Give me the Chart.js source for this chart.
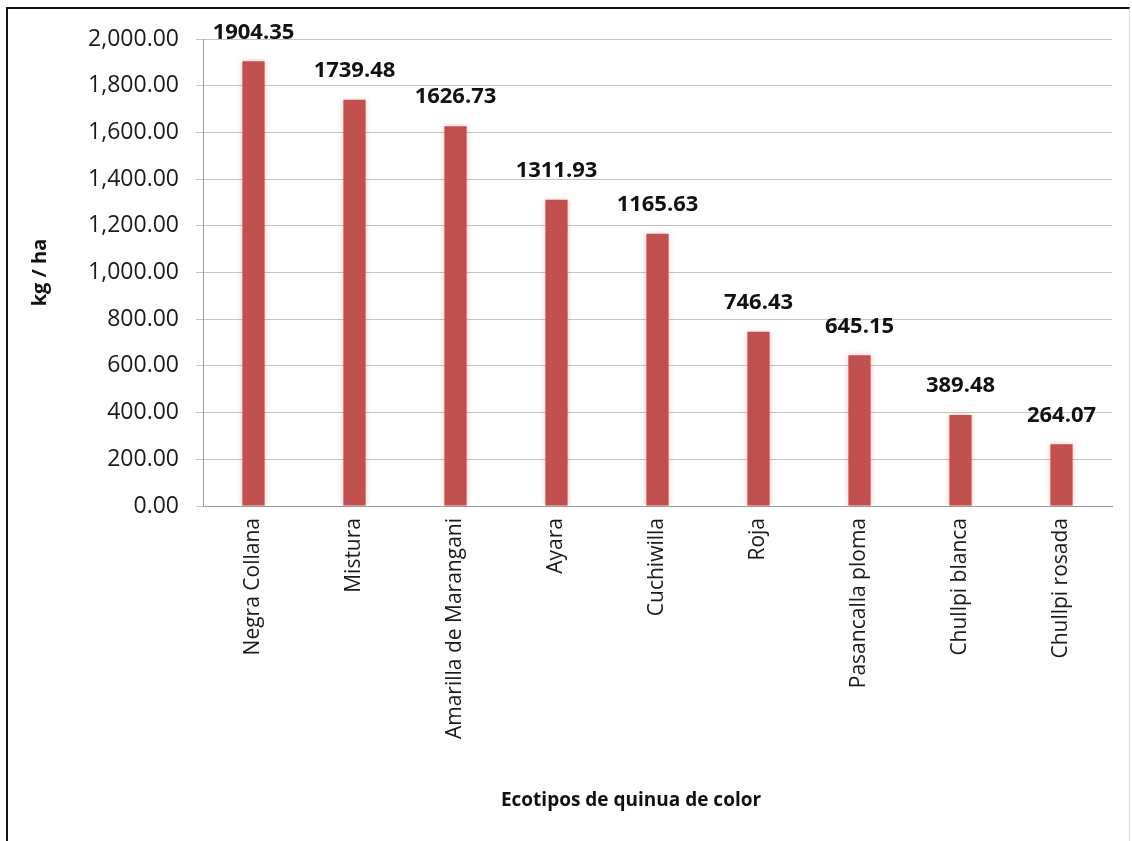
<!DOCTYPE html>
<html>
<head>
<meta charset="utf-8">
<script src="https://cdn.jsdelivr.net/npm/chart.js@4"></script>
<style>
  html, body { margin: 0; padding: 0; background: #fff; }
  #wrap { position: relative; width: 1132px; height: 841px; overflow: hidden; }
  #frame {
    position: absolute; left: 6px; top: 7px; width: 1121px; height: 900px;
    border-left: 2px solid #111; border-top: 2px solid #111; border-right: 1px solid #ddd;
  }
  canvas { position: absolute; left: 0; top: 0; }
</style>
</head>
<body>
<div id="wrap">
  <div id="frame"></div>
  <canvas id="c" width="1132" height="841"></canvas>
</div>
<script>
// Yield of coloured quinoa ecotypes (kg / ha)
const categories = [
  'Negra Collana', 'Mistura', 'Amarilla de Marangani', 'Ayara', 'Cuchiwilla',
  'Roja', 'Pasancalla ploma', 'Chullpi blanca', 'Chullpi rosada'
];
const yieldValues = [1904.35, 1739.48, 1626.73, 1311.93, 1165.63, 746.43, 645.15, 389.48, 264.07];
const yTicks = [0, 200, 400, 600, 800, 1000, 1200, 1400, 1600, 1800, 2000];
const xTitle = 'Ecotipos de quinua de color';

const FONT = "'Open Sans', 'Liberation Sans', sans-serif";

// Soft halo around the bars
const barHalo = {
  id: 'barHalo',
  beforeDatasetsDraw(chart) {
    const ctx = chart.ctx;
    ctx.save();
    ctx.shadowColor = 'rgba(230,120,120,0.45)';
    ctx.shadowBlur = 5;
  },
  afterDatasetsDraw(chart) {
    chart.ctx.restore();
  }
};

// Value written above each bar, plus the category-axis title
const valueLabels = {
  id: 'valueLabels',
  afterDatasetsDraw(chart) {
    const ctx = chart.ctx;
    const meta = chart.getDatasetMeta(0);
    ctx.save();
    ctx.font = 'bold 22px ' + FONT;
    ctx.fillStyle = '#111';
    ctx.textAlign = 'center';
    ctx.textBaseline = 'middle';
    meta.data.forEach((bar, i) => {
      const v = chart.data.datasets[0].data[i];
      ctx.fillText(v.toFixed(2), bar.x, bar.y - 29);
    });
    ctx.font = 'bold 19px ' + FONT;
    ctx.fillText(xTitle, 631, 801);
    ctx.restore();
  }
};

new Chart(document.getElementById('c'), {
  type: 'bar',
  data: {
    labels: categories,
    datasets: [{
      data: yieldValues,
      backgroundColor: '#C0504D',
      barPercentage: 0.22,
      categoryPercentage: 1.0
    }]
  },
  options: {
    responsive: false,
    animation: false,
    devicePixelRatio: 1,
    layout: { padding: { left: 28, right: 20, top: 39, bottom: 0 } },
    plugins: {
      legend: { display: false },
      tooltip: { enabled: false }
    },
    scales: {
      x: {
        grid: { display: false, drawTicks: false },
        border: { display: true, color: '#9a9a9a', width: 1 },
        ticks: {
          autoSkip: false,
          maxRotation: 90,
          minRotation: 90,
          padding: 12,
          color: '#1a1a1a',
          font: { family: FONT, size: 21 }
        },
        afterFit(scale) { scale.height = 335; }
      },
      y: {
        min: 0,
        max: 2000,
        afterBuildTicks(scale) { scale.ticks = yTicks.map(v => ({ value: v })); },
        grid: { color: '#c4c4c4', lineWidth: 1, tickLength: 7, drawTicks: true },
        border: { display: true, color: '#9a9a9a', width: 1 },
        ticks: {
          padding: 17,
          color: '#1a1a1a',
          font: { family: FONT, size: 23 },
          callback: v => v.toLocaleString('en-US', { minimumFractionDigits: 2, maximumFractionDigits: 2 })
        },
        title: {
          display: true,
          text: 'kg / ha',
          color: '#111',
          font: { family: FONT, size: 20, weight: 'bold' },
          padding: { top: 0, bottom: 0 }
        },
        afterFit(scale) { scale.width = 175; }
      }
    }
  },
  plugins: [barHalo, valueLabels]
});
</script>
</body>
</html>
